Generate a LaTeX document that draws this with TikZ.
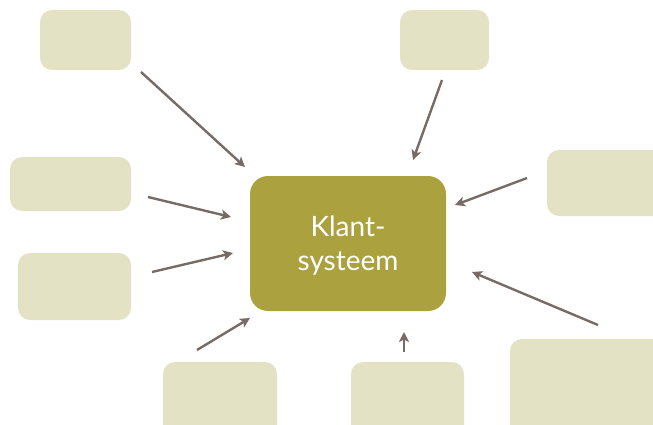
\documentclass[tikz,border=0pt]{standalone}
\usepackage{fontspec}
\setmainfont{Lato}
\usetikzlibrary{arrows.meta}
\definecolor{paleolive}{HTML}{E3E2C5}
\definecolor{olive}{HTML}{ABA23F}
\definecolor{arrowgray}{HTML}{776B66}
\tikzset{
  satbox/.style={fill=paleolive, draw=none, rounded corners=12pt},
  corebox/.style={fill=olive, draw=none, rounded corners=18pt},
  influence/.style={draw=arrowgray, line width=2.4pt,
    -{Stealth[length=10pt,width=10pt,inset=2.5pt]}},
}
\begin{document}
\begin{tikzpicture}[x=1pt,y=-1pt]
  \useasboundingbox (0,0) rectangle (653,425);

  % surrounding boxes
  \path[satbox] (40,10) rectangle (131,70) coordinate (tl);
  \path[satbox] (400,10) rectangle (489,70) coordinate (tc);
  \path[satbox] (10,157) rectangle (131,211) coordinate (ml);
  \path[satbox] (547,150) rectangle (670,216) coordinate (mr);
  \path[satbox] (18,253) rectangle (131,320) coordinate (ll);
  \path[satbox] (163,362) rectangle (277,440) coordinate (b1);
  \path[satbox] (351,362) rectangle (464,440) coordinate (b2);
  \path[satbox] (510,339) rectangle (670,440) coordinate (br);

  % central box
  \path[corebox] (250,176) rectangle (446,311);
  \node[text=white, font=\fontsize{28}{34}\selectfont, align=center,
        inner sep=0pt] (core) at (348,246) {Klant-\\systeem};

  % arrow end points
  \coordinate (s1) at (141,72);  \coordinate (e1) at (245,167);
  \coordinate (s2) at (442,80);  \coordinate (e2) at (413,160);
  \coordinate (s3) at (148,197); \coordinate (e3) at (231,217);
  \coordinate (s4) at (527,178); \coordinate (e4) at (455,205);
  \coordinate (s5) at (152,272); \coordinate (e5) at (233,253);
  \coordinate (s6) at (598,325); \coordinate (e6) at (472,272);
  \coordinate (s7) at (197,350); \coordinate (e7) at (250,318);
  \coordinate (s8) at (404,352); \coordinate (e8) at (404,332);

  \foreach \i in {1,...,8} \draw[influence] (s\i) -- (e\i);
\end{tikzpicture}
\end{document}
